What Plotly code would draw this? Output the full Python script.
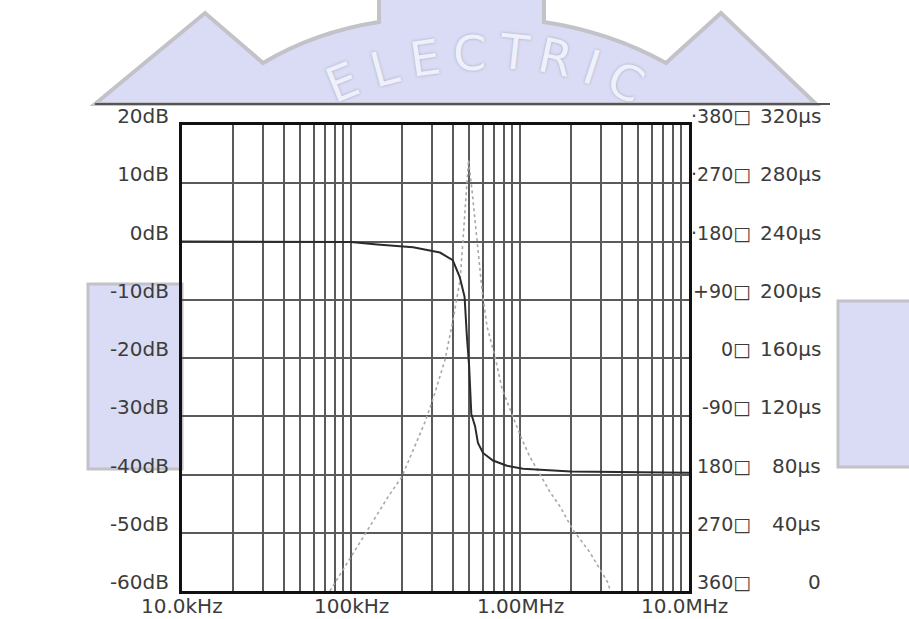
import math

import plotly.graph_objects as go

# ---- data ----
# dark trace: magnitude (dB) vs frequency (kHz)
mag_freq_khz = [10, 100, 143, 233, 336, 400, 440, 470, 485, 500, 515, 542,
                564, 604, 692, 837, 1042, 2000, 10000]
mag_db = [0, -0.1, -0.5, -1.0, -1.9, -3.2, -6.1, -9.5, -16.3, -21.4, -29.6,
          -31.7, -34.6, -36.3, -37.6, -38.5, -39.0, -39.5, -39.7]

# light dotted trace: peaked response around the resonance
dly_freq_khz = [75, 118, 166, 200, 274, 306, 327, 360, 402, 442, 460, 486,
                496, 520, 542, 596, 638, 712, 783, 909, 1027, 1146, 1368,
                1505, 1725, 2058, 2595, 3317, 3420]
dly_db = [-60, -50.7, -43.8, -40.4, -31, -27, -24.3, -20.3, -13.4, -6.6, 0.3,
          11.8, 14, 8.8, 3.2, -8.3, -14.6, -19.8, -25.3, -30, -34, -37, -41,
          -43, -45.5, -49.5, -53.4, -58.6, -60]

db_ticks = [20, 10, 0, -10, -20, -30, -40, -50, -60]
db_labels = ["20dB", "10dB", "0dB", "-10dB", "-20dB", "-30dB", "-40dB", "-50dB", "-60dB"]
phase_labels = ["·380□", "·270□", "·180□", "+90□", "0□", "-90□", "180□", "270□", "360□"]
time_labels = ["320µs", "280µs", "240µs", "200µs", "160µs", "120µs", "80µs", "40µs", "0"]

decades_khz = [10, 100, 1000, 10000]
decade_labels = ["10.0kHz", "100kHz", "1.00MHz", "10.0MHz"]

FONT = "DejaVu Sans, Verdana, sans-serif"
TXT = "#3c3c3c"
FS = 20

# plot box in page pixels, used to place the watermark / decorations
L, R, T, B = 182, 689, 125, 591


def px(x, y):
    return (x - L) / (R - L), (B - y) / (B - T)


def path(cmds):
    out = []
    for c in cmds:
        if c == "Z":
            out.append("Z")
            continue
        op, *pts = c
        xy = " ".join("%.4f,%.4f" % px(*p) for p in pts)
        out.append(op + " " + xy)
    return " ".join(out)


# vertical grid: every 1..9 multiple of each decade
grid_vals = [d * m * 1000 for d in decades_khz[:-1] for m in range(1, 10)]
grid_vals.append(decades_khz[-1] * 1000)

fig = go.Figure()
fig.add_trace(go.Scatter(
    x=[f * 1000 for f in dly_freq_khz], y=dly_db, mode="lines",
    line=dict(color="#a8a8a8", width=1.6, dash="dot"), name="delay",
))
fig.add_trace(go.Scatter(
    x=[f * 1000 for f in mag_freq_khz], y=mag_db, mode="lines",
    line=dict(color="#2b2b2b", width=2), name="magnitude",
))

WM_FILL = "#d9dcf4"
WM_EDGE = "#c2c2c8"
shapes = [
    # watermark gear (top part and side teeth)
    dict(type="path", xref="paper", yref="paper", layer="below",
         path=path([("M", (95, 104)), ("L", (205, 13)), ("L", (263, 63)),
                    ("Q", (315, 32), (379, 22)), ("L", (379, -6)),
                    ("L", (544, -6)), ("L", (544, 22)),
                    ("Q", (610, 32), (666, 63)), ("L", (721, 13)),
                    ("L", (816, 104)), "Z"]),
         fillcolor=WM_FILL, line=dict(color=WM_EDGE, width=4)),
    dict(type="rect", xref="paper", yref="paper", layer="below",
         x0=px(88, 0)[0], x1=px(182, 0)[0], y0=px(0, 284)[1], y1=px(0, 469)[1],
         fillcolor=WM_FILL, line=dict(color=WM_EDGE, width=3)),
    dict(type="rect", xref="paper", yref="paper", layer="below",
         x0=px(838, 0)[0], x1=px(920, 0)[0], y0=px(0, 301)[1], y1=px(0, 467)[1],
         fillcolor=WM_FILL, line=dict(color=WM_EDGE, width=3)),
    # scan separator line
    dict(type="line", xref="paper", yref="paper",
         x0=px(95, 0)[0], x1=px(830, 0)[0], y0=px(0, 104)[1], y1=px(0, 104)[1],
         line=dict(color="#555555", width=2)),
]

annotations = []
for y, ph, tm in zip(db_ticks, phase_labels, time_labels):
    annotations.append(dict(xref="paper", yref="y", x=px(753, 0)[0], y=y,
                            text=ph, showarrow=False, xanchor="right", yanchor="middle",
                            yshift=9, font=dict(family=FONT, size=19, color=TXT)))
    annotations.append(dict(xref="paper", yref="y", x=px(823, 0)[0], y=y,
                            text=tm, showarrow=False, xanchor="right", yanchor="middle",
                            yshift=9, font=dict(family=FONT, size=FS, color=TXT)))

# frequency labels under the decade lines
for i, (d, lab) in enumerate(zip(decades_khz, decade_labels)):
    annotations.append(dict(xref="x", yref="paper", x=math.log10(d * 1000), y=0,
                            text=lab, showarrow=False, xanchor="center", yanchor="middle",
                            yshift=-15, xshift=-5 if i == len(decades_khz) - 1 else 0,
                            font=dict(family=FONT, size=FS, color=TXT)))

# watermark lettering along an arc
letters = [("E", 342, 82, -22), ("L", 384, 68, -15), ("E", 425, 58, -8),
           ("C", 470, 53, 0), ("T", 514, 52, 6), ("R", 555, 57, 12),
           ("I", 592, 67, 18), ("C", 626, 82, 25)]
for ch, x, y, ang in letters:
    xp, yp = px(x, y)
    annotations.append(dict(xref="paper", yref="paper", x=xp, y=yp, text=ch,
                            showarrow=False, textangle=ang,
                            xanchor="center", yanchor="middle",
                            font=dict(family="DejaVu Sans", size=48, color="#eff0fb",
                                      shadow="0 0 3px #a4a6ba")))

fig.update_layout(
    width=909, height=619, autosize=False,
    margin=dict(l=L, r=909 - R, t=T, b=619 - B),
    paper_bgcolor="white", plot_bgcolor="white",
    showlegend=False,
    shapes=shapes, annotations=annotations,
    font=dict(family=FONT, size=FS, color=TXT),
)
fig.update_xaxes(
    type="log", range=[4, 7],
    tickmode="array", tickvals=grid_vals, showticklabels=False,
    showgrid=True, gridcolor="#5a5a5a", gridwidth=1.5,
    showline=True, linecolor="#111111", linewidth=2.5, mirror=True,
    ticks="", zeroline=False, automargin=False,
)
fig.update_yaxes(
    range=[-60, 20], tickmode="array", tickvals=db_ticks, ticktext=db_labels,
    showgrid=True, gridcolor="#5a5a5a", gridwidth=1.5,
    showline=True, linecolor="#111111", linewidth=3, mirror=True,
    ticks="", ticklabelstandoff=6, ticklabelshift=-9, zeroline=False,
    automargin=False,
)

# drop the browser's default body margin so the figure sits at the page origin
fig.write_html("out.html", config={"displayModeBar": False},
               post_script="document.body.style.margin='0px';")
